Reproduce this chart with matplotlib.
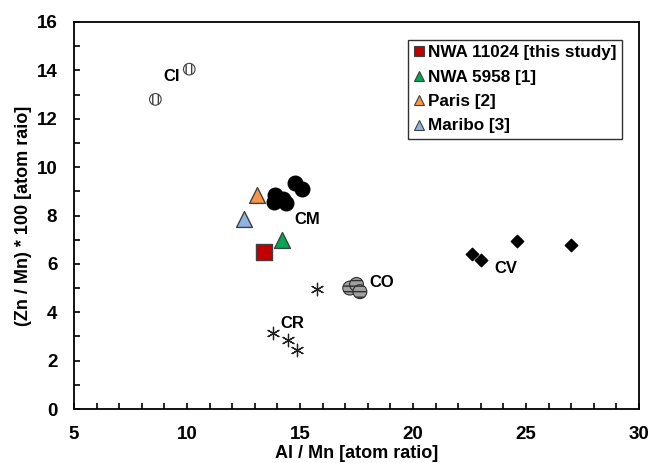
import matplotlib.pyplot as plt
from matplotlib.lines import Line2D

plt.rcParams['font.family'] = ['Liberation Sans', 'DejaVu Sans']
plt.rcParams['font.weight'] = 'bold'

# chondrite groups (Al/Mn, Zn/Mn*100)
ci_x = [8.6, 10.1]
ci_y = [12.8, 14.05]
cm_x = [13.9, 13.85, 14.25, 14.4, 14.8, 15.1]
cm_y = [8.85, 8.55, 8.7, 8.5, 9.35, 9.1]
co_x = [17.2, 17.5, 17.65]
co_y = [5.0, 5.15, 4.85]
cr_x = [13.8, 14.45, 14.85, 15.75]
cr_y = [3.15, 2.85, 2.45, 4.95]
cv_x = [22.6, 23.0, 24.6, 27.0]
cv_y = [6.4, 6.15, 6.95, 6.8]

# individual meteorites
samples = ['NWA 11024 [this study]', 'NWA 5958 [1]', 'Paris [2]', 'Maribo [3]']
sample_x = [13.4, 14.2, 13.1, 12.5]
sample_y = [6.5, 7.0, 8.85, 7.85]
sample_marker = ['s', '^', '^', '^']
sample_color = ['#c00000', '#00a850', '#f79646', '#8db4e2']

fig = plt.figure(figsize=(6.51, 4.63), dpi=100)
ax = fig.add_axes([0.1137, 0.1166, 0.8679, 0.8359])

ax.scatter(ci_x, ci_y, marker='o', s=70, facecolor='white', edgecolor='#404040',
           hatch='|||', linewidth=0.8, zorder=3)
ax.scatter(cm_x, cm_y, marker='o', s=110, color='black', zorder=3)
ax.scatter(co_x, co_y, marker='o', s=100, facecolor='#a0a0a0', edgecolor='#303030',
           hatch='---', linewidth=0.8, zorder=3)
ax.scatter(cr_x, cr_y, marker=(6, 2, 0), s=80, color='#202020', linewidth=0.9, zorder=3)
ax.scatter(cv_x, cv_y, marker='D', s=40, color='black', zorder=3)

handles = []
for name, x, y, m, c in zip(samples, sample_x, sample_y, sample_marker, sample_color):
    ax.scatter(x, y, marker=m, s=130, facecolor=c, edgecolor='#404040', linewidth=1.0, zorder=4)
    handles.append(Line2D([], [], linestyle='none', marker=m, markersize=7.5,
                          markerfacecolor=c, markeredgecolor='#404040',
                          markeredgewidth=0.8, label=name))

labels = {'CI': (9.3, 13.75), 'CM': (15.3, 7.85), 'CO': (18.6, 5.25),
          'CR': (14.65, 3.55), 'CV': (24.1, 5.8)}
for txt, (x, y) in labels.items():
    ax.text(x, y, txt, ha='center', va='center', fontsize=12, fontweight='bold')

ax.set_xlim(5, 30)
ax.set_ylim(0, 16)
ax.set_xticks(range(5, 31, 5))
ax.set_yticks(range(0, 17, 2))
ax.set_xticks(range(5, 31), minor=True)
ax.set_yticks(range(0, 17), minor=True)
ax.tick_params(which='both', direction='in', length=4, width=1.2, labelsize=13.5,
               top=False, right=False)
ax.tick_params(axis='x', pad=12)
ax.tick_params(axis='y', pad=12)
for sp in ax.spines.values():
    sp.set_linewidth(1.3)

ax.set_xlabel('Al / Mn [atom ratio]', fontsize=13, fontweight='bold', labelpad=2)
ax.set_ylabel('(Zn / Mn) * 100 [atom raio]', fontsize=13, fontweight='bold', labelpad=3)

leg = ax.legend(handles=handles, loc='upper right', bbox_to_anchor=(0.97, 0.953),
                fancybox=False, edgecolor='#303030', framealpha=1,
                prop={'weight': 'bold', 'size': 12.3}, handlelength=0.7,
                handletextpad=0.2, borderpad=0.3, labelspacing=0.55, borderaxespad=0)
leg.get_frame().set_linewidth(1.0)

fig.savefig('out.png', dpi=100)
